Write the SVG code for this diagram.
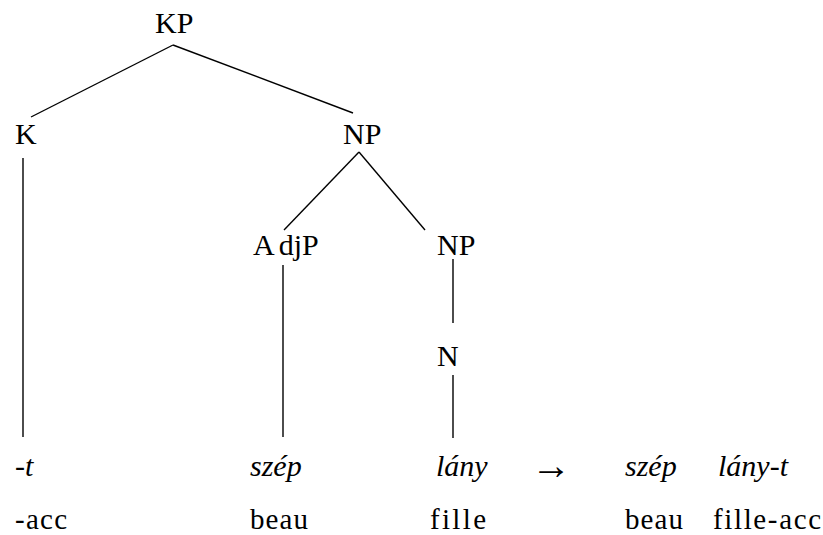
<svg xmlns="http://www.w3.org/2000/svg" width="823" height="535" viewBox="0 0 823 535">
<style>
text { font-family: "Liberation Serif", "Times New Roman", serif; font-size: 30px; fill: #000; }
.it { font-style: italic; }
.gl { font-size: 29px; }
.arr { font-size: 40px; }
.edge { stroke: #000; stroke-width: 1.4; fill: none; }
</style>
<rect width="823" height="535" fill="#fff"/>
<g id="connectors">
<line class="edge" x1="173" y1="45" x2="31" y2="117"/>
<line class="edge" x1="173" y1="45" x2="353" y2="113"/>
<line class="edge" x1="23" y1="158" x2="23" y2="437"/>
<line class="edge" x1="359" y1="152" x2="284" y2="230"/>
<line class="edge" x1="359" y1="152" x2="425" y2="230"/>
<line class="edge" x1="283" y1="265" x2="283" y2="437"/>
<line class="edge" x1="453" y1="259" x2="453" y2="323"/>
<line class="edge" x1="453" y1="375" x2="453" y2="438"/>
</g>
<g id="KP"><text x="155" y="33">KP</text></g>
<g id="K"><text x="15" y="144">K</text></g>
<g id="NP1"><text x="343" y="144">NP</text></g>
<g id="AdjP"><text x="253" y="255">A<tspan dx="4">djP</tspan></text></g>
<g id="NP2"><text x="437" y="255">NP</text></g>
<g id="N"><text x="437" y="366">N</text></g>
<g id="w-t"><text class="it" x="15" y="476">-t</text></g>
<g id="w-szep"><text class="it" x="250" y="476">szép</text></g>
<g id="w-lany"><text class="it" x="436" y="476">lány</text></g>
<g id="arrow"><text class="arr" x="531" y="479">→</text></g>
<g id="w-szep2"><text class="it" x="625" y="476">szép</text></g>
<g id="w-lanyt"><text class="it" x="718" y="476">lány-t</text></g>
<g id="g-acc"><text class="gl" x="15" y="529" textLength="52" lengthAdjust="spacing">-acc</text></g>
<g id="g-beau"><text class="gl" x="250" y="529" textLength="58" lengthAdjust="spacing">beau</text></g>
<g id="g-fille"><text class="gl" x="430" y="529" textLength="56" lengthAdjust="spacing">fille</text></g>
<g id="g-beau2"><text class="gl" x="625" y="529" textLength="58" lengthAdjust="spacing">beau</text></g>
<g id="g-filleacc"><text class="gl" x="713" y="529" textLength="108" lengthAdjust="spacing">fille-acc</text></g>
</svg>
